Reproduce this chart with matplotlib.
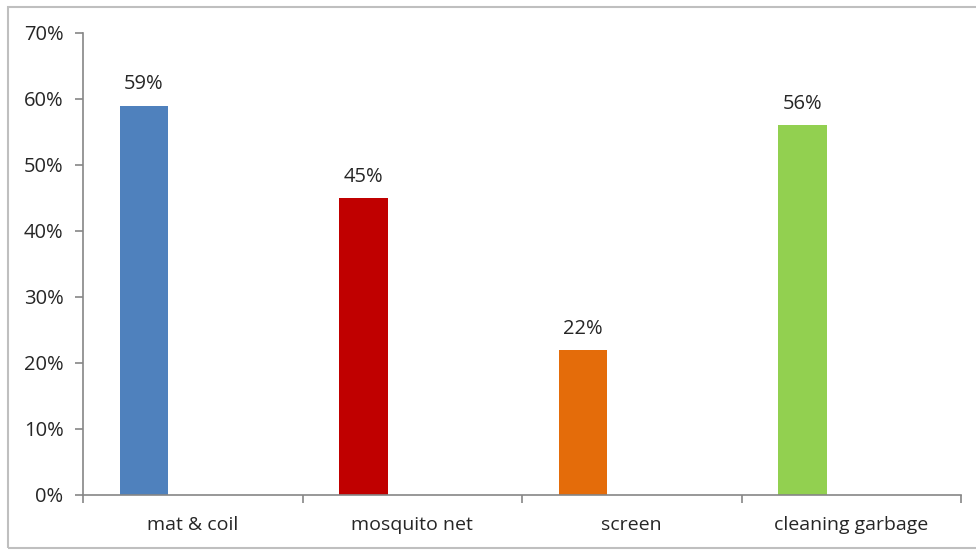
import matplotlib.pyplot as plt
from matplotlib.patches import Rectangle
from matplotlib.ticker import FuncFormatter, FixedLocator

categories = ["mat & coil", "mosquito net", "screen", "cleaning garbage"]
shares = [59, 45, 22, 56]
bar_colors = ["#4F81BD", "#C00000", "#E46C0A", "#92D050"]
y_ticks = [0, 10, 20, 30, 40, 50, 60, 70]

plt.rcParams["font.family"] = ["Open Sans", "DejaVu Sans"]

fig = plt.figure(figsize=(9.76, 5.51), dpi=100)
W, H = 976, 551
ax = fig.add_axes([83 / W, 56 / H, (961 - 83) / W, (495 - 33) / H])

# bars sit in the left part of each category slot
x = [i - 0.222 for i in range(len(categories))]
ax.bar(x, shares, width=0.219, color=bar_colors)
for xi, v in zip(x, shares):
    ax.annotate(f"{v}%", (xi, v), xytext=(0, 8), textcoords="offset points",
                ha="center", va="bottom", fontsize=14.5, color="#262626")

ax.set_xlim(-0.5, len(categories) - 0.5)
ax.set_ylim(0, 70)
ax.yaxis.set_major_locator(FixedLocator(y_ticks))
ax.yaxis.set_major_formatter(FuncFormatter(lambda v, _: f"{v:.0f}%"))

# category labels centered, tick marks on slot boundaries
ax.set_xticks(range(len(categories)))
ax.set_xticklabels(categories)
ax.set_xticks([i - 0.5 for i in range(len(categories) + 1)], minor=True)
ax.tick_params(axis="x", which="major", length=0, pad=15, labelsize=14, labelcolor="#262626")
ax.tick_params(axis="x", which="minor", length=6, direction="out", color="#868686", width=1.2)
ax.tick_params(axis="y", length=6, direction="out", color="#868686", width=1.2,
               labelsize=14.5, labelcolor="#262626", pad=8)

for side in ["top", "right"]:
    ax.spines[side].set_visible(False)
for side in ["left", "bottom"]:
    ax.spines[side].set_color("#868686")
    ax.spines[side].set_linewidth(1.2)

# chart area border
fig.patches.append(Rectangle((8 / W, 3 / H), 1.0, (544 - 3) / H, transform=fig.transFigure,
                             fill=False, edgecolor="#BFBFBF", linewidth=1.5))

fig.savefig("out.png", dpi=100)
